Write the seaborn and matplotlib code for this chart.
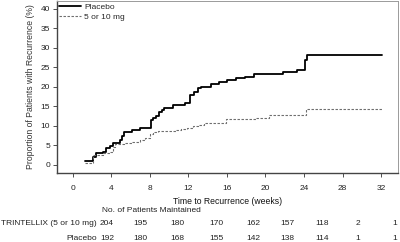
import matplotlib
matplotlib.use("Agg")
import matplotlib.pyplot as plt
import seaborn as sns
import pandas as pd
from matplotlib.lines import Line2D

# ---- data ----
placebo_weeks = [1.25, 2.1, 2.4, 3.1, 3.5, 3.9, 4.2, 4.9, 5.1, 5.3, 6.1, 7.0, 8.1, 8.3, 8.6,
                 9.0, 9.3, 9.5, 10.4, 11.6, 12.2, 12.6, 13.0, 13.3, 14.3, 15.2, 16.0, 16.9,
                 17.9, 18.8, 21.8, 23.3, 24.1, 24.3, 32.1]
placebo_pct = [1.0, 2.1, 3.0, 3.4, 4.3, 4.9, 5.6, 6.4, 7.3, 8.4, 9.0, 9.5, 11.5, 12.0, 12.6,
               13.7, 14.1, 14.5, 15.4, 15.8, 17.9, 18.8, 19.8, 20.1, 20.7, 21.2, 21.8, 22.2,
               22.6, 23.2, 23.8, 24.4, 26.9, 28.2, 28.2]
drug_weeks = [1.25, 2.1, 3.1, 3.9, 4.2, 4.4, 5.3, 6.1, 7.0, 7.5, 8.0, 8.3, 8.8, 10.7, 11.2,
              11.9, 12.5, 13.0, 13.6, 15.9, 19.0, 20.4, 24.2, 32.1]
drug_pct = [0.6, 2.5, 3.0, 3.4, 4.6, 5.3, 5.6, 6.0, 6.4, 6.8, 7.9, 8.5, 8.6, 9.0, 9.3,
            9.6, 9.9, 10.3, 10.7, 11.7, 12.1, 12.8, 14.4, 14.4]

x_ticks = [0, 4, 8, 12, 16, 20, 24, 28, 32]
y_ticks = [0, 5, 10, 15, 20, 25, 30, 35, 40]

risk_header = "No. of Patients Maintained"
risk_labels = ["TRINTELLIX (5 or 10 mg)", "Placebo"]
risk_drug = [204, 195, 180, 170, 162, 157, 118, 2, 1]
risk_placebo = [192, 180, 168, 155, 142, 138, 114, 1, 1]

legend_labels = ["Placebo", "5 or 10 mg"]

df_p = pd.DataFrame({"week": placebo_weeks, "pct": placebo_pct})
df_d = pd.DataFrame({"week": drug_weeks, "pct": drug_pct})

# ---- figure ----
sns.set_theme(style="white")
plt.rcParams["font.family"] = ["Liberation Sans", "DejaVu Sans"]

W, H = 400, 242
fig = plt.figure(figsize=(4.0, 2.42), dpi=100)
ax = fig.add_axes([57 / W, 1 - 173 / H, (398 - 57) / W, (173 - 1) / H])

sns.lineplot(data=df_p, x="week", y="pct", ax=ax, drawstyle="steps-post",
             color="black", linewidth=1.3, estimator=None, sort=True)
sns.lineplot(data=df_d, x="week", y="pct", ax=ax, drawstyle="steps-post",
             color="#6e6e6e", linewidth=0.8, linestyle=(0, (2.2, 1.4)),
             estimator=None, sort=True)

ax.set_xlim(-1.63, 33.75)
ax.set_ylim(-2.05, 42.0)
ax.set_xticks(x_ticks)
ax.set_yticks(y_ticks)
ax.set_xticklabels([str(t) for t in x_ticks], fontsize=6, color="#222222")
ax.set_yticklabels([str(t) for t in y_ticks], fontsize=6, color="#222222")
ax.tick_params(axis="both", which="both", direction="out", length=3, width=0.6,
               color="#333333", pad=2, bottom=True, left=True)
ax.tick_params(axis="x", pad=6)
ax.set_xlabel("Time to Recurrence (weeks)", fontsize=6.2, color="#111111", labelpad=3)
ax.set_ylabel("Proportion of Patients with Recurrence (%)", fontsize=6.2,
              color="#333333", labelpad=4)
for side in ["left", "bottom"]:
    ax.spines[side].set_color("#444444")
    ax.spines[side].set_linewidth(1.0)
for side in ["top", "right"]:
    ax.spines[side].set_color("#9a9a9a")
    ax.spines[side].set_linewidth(0.7)
    ax.spines[side].set_visible(True)

handles = [Line2D([], [], color="black", linewidth=1.3),
           Line2D([], [], color="#6e6e6e", linewidth=0.8, linestyle=(0, (2.2, 1.4)))]
ax.legend(handles, legend_labels, loc="upper left", frameon=False, fontsize=6,
          handlelength=2.6, handletextpad=0.4, labelspacing=0.25,
          borderaxespad=0.1, borderpad=0.2)

# ---- risk table ----
col_x = [107, 140.5, 177, 216.7, 253, 287.5, 321.7, 358, 395]
fig.text(101.7 / W, 1 - 210.7 / H, risk_header, fontsize=6, ha="left", va="center",
         color="#222222")
for row_y, label, counts in [(223.3, risk_labels[0], risk_drug),
                             (238.3, risk_labels[1], risk_placebo)]:
    fig.text(97 / W, 1 - row_y / H, label, fontsize=6, ha="right", va="center",
             color="#222222")
    for cx, n in zip(col_x, counts):
        fig.text(cx / W, 1 - row_y / H, str(n), fontsize=6, ha="center", va="center",
                 color="#222222")

fig.savefig("out.png", dpi=100)
